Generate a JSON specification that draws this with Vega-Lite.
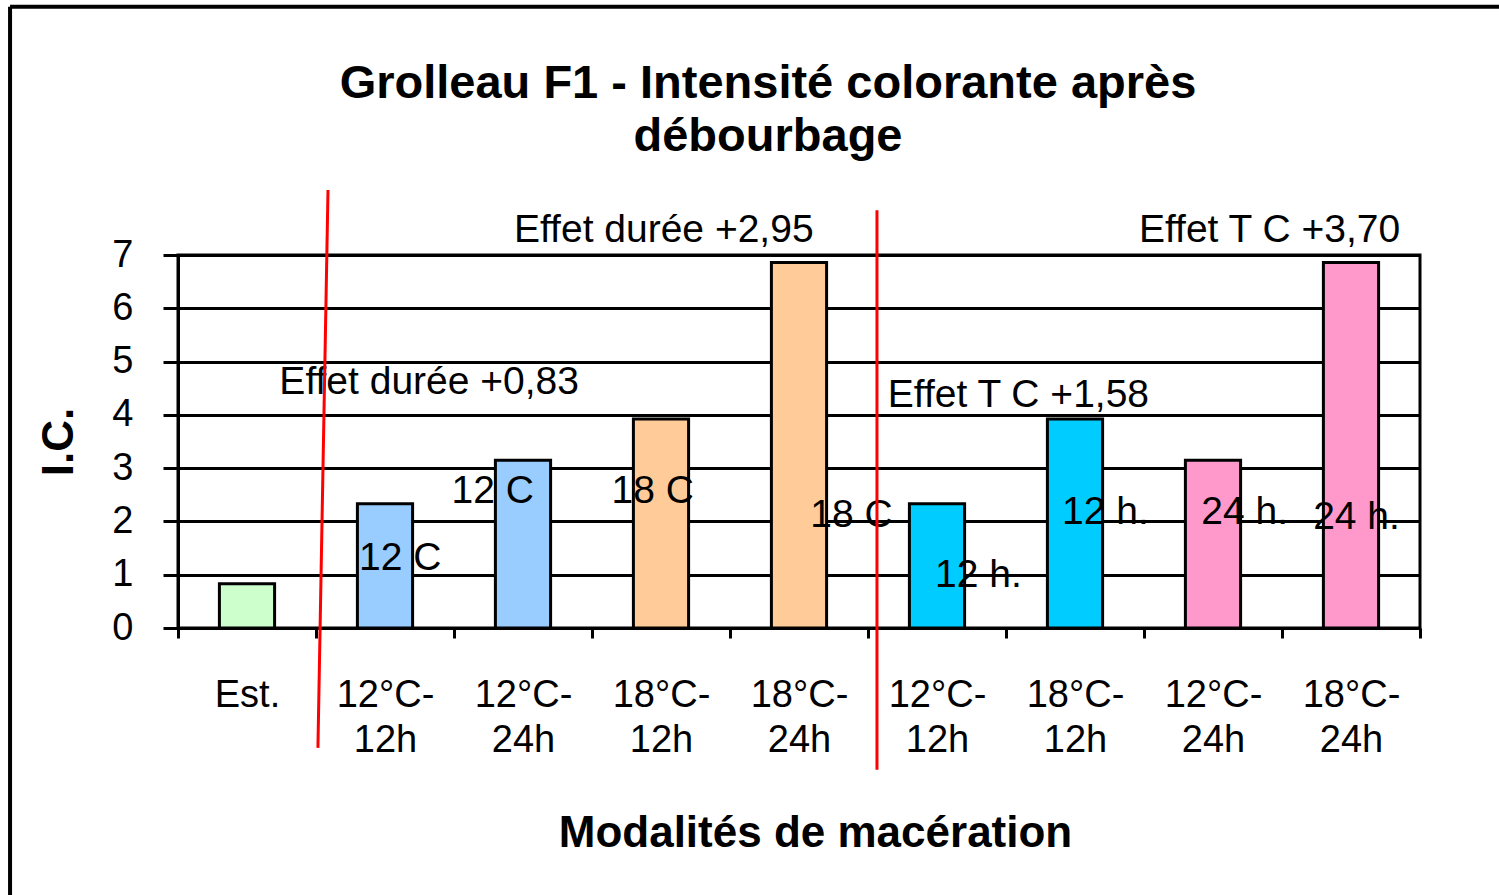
{
  "$schema": "https://vega.github.io/schema/vega-lite/v6.json",
  "autosize": "none",
  "width": 1242,
  "height": 373,
  "padding": {"left": 178, "top": 255, "right": 79, "bottom": 267},
  "background": "white",
  "title": {
    "text": ["Grolleau F1 - Intensité  colorante  après", "débourbage"],
    "font": "Liberation Sans",
    "fontSize": 47,
    "fontWeight": "bold",
    "color": "black",
    "lineHeight": 53,
    "offset": -156,
    "dx": -31,
    "anchor": "middle"
  },
  "config": {
    "view": {"stroke": "black", "strokeWidth": 3},
    "font": "Liberation Sans",
    "text": {"font": "Liberation Sans"}
  },
  "datasets": {
    "bars": [
      {"cat": "Est.", "ic": 0.83, "groupe": "Est"},
      {"cat": "12°C-|12h", "ic": 2.33, "groupe": "12C"},
      {"cat": "12°C-|24h", "ic": 3.15, "groupe": "12C"},
      {"cat": "18°C-|12h", "ic": 3.92, "groupe": "18C"},
      {"cat": "18°C-|24h", "ic": 6.86, "groupe": "18C"},
      {"cat": "12°C-|12h ", "ic": 2.33, "groupe": "12h"},
      {"cat": "18°C-|12h ", "ic": 3.92, "groupe": "12h"},
      {"cat": "12°C-|24h ", "ic": 3.15, "groupe": "24h"},
      {"cat": "18°C-|24h ", "ic": 6.86, "groupe": "24h"}
    ],
    "notes": [
      {"texte": "Effet durée +0,83", "px": 1.82, "py": 4.62},
      {"texte": "Effet durée +2,95", "px": 3.52, "py": 7.47},
      {"texte": "Effet T C +3,70", "px": 7.91, "py": 7.47},
      {"texte": "Effet T C +1,58", "px": 6.09, "py": 4.37},
      {"texte": "12  C", "px": 1.61, "py": 1.31},
      {"texte": "12  C", "px": 2.28, "py": 2.57},
      {"texte": "18  C", "px": 3.44, "py": 2.57},
      {"texte": "18  C", "px": 4.88, "py": 2.12},
      {"texte": "12 h.", "px": 5.80, "py": 0.99},
      {"texte": "12 h.", "px": 6.72, "py": 2.18},
      {"texte": "24 h.", "px": 7.73, "py": 2.18},
      {"texte": "24 h.", "px": 8.54, "py": 2.08}
    ],
    "lignes": [
      {"x1": 1.087, "y1": 8.22, "x2": 1.014, "y2": -2.25},
      {"x1": 5.065, "y1": 7.84, "x2": 5.065, "y2": -2.66}
    ],
    "cadre": [
      {"x1": -1.217, "y1": 11.66, "x2": 9.7, "y2": 11.66},
      {"x1": -1.217, "y1": 11.66, "x2": -1.217, "y2": -5.2}
    ]
  },
  "layer": [
    {
      "data": {"name": "bars"},
      "mark": {"type": "bar", "stroke": "black", "strokeWidth": 3, "width": {"band": 0.4}},
      "encoding": {
        "x": {
          "field": "cat",
          "type": "nominal",
          "sort": null,
          "scale": {"paddingInner": 0, "paddingOuter": 0},
          "axis": {
            "title": "Modalités de macération",
            "titleFont": "Liberation Sans",
            "titleFontSize": 44,
            "titleFontWeight": "bold",
            "titleColor": "black",
            "titlePadding": 52,
            "titleX": 637,
            "labelExpr": "datum.value ? split(trim(datum.value), '|') : ''",
            "labelFont": "Liberation Sans",
            "labelFontSize": 38,
            "labelColor": "black",
            "labelLineHeight": 45,
            "labelAngle": 0,
            "labelPadding": 38,
            "labelBaseline": "top",
            "tickBand": "extent",
            "tickColor": "black",
            "tickWidth": 3,
            "tickSize": 10,
            "domainColor": "black",
            "domainWidth": 3,
            "grid": false
          }
        },
        "y": {
          "field": "ic",
          "type": "quantitative",
          "scale": {"domain": [0, 7], "nice": false},
          "axis": {
            "title": "I.C.",
            "titleFont": "Liberation Sans",
            "titleFontSize": 44,
            "titleFontWeight": "bold",
            "titleColor": "black",
            "titlePadding": 30,
            "values": [0, 1, 2, 3, 4, 5, 6, 7],
            "format": "d",
            "labelFont": "Liberation Sans",
            "labelFontSize": 38,
            "labelColor": "black",
            "labelPadding": 30,
            "tickColor": "black",
            "tickWidth": 3,
            "tickSize": 15,
            "domainColor": "black",
            "domainWidth": 3,
            "grid": true,
            "gridColor": "black",
            "gridWidth": 3,
            "gridOpacity": 1
          }
        },
        "color": {
          "field": "groupe",
          "type": "nominal",
          "scale": {
            "domain": ["Est", "12C", "18C", "12h", "24h"],
            "range": ["#CCFFCC", "#99CCFF", "#FFCC99", "#00CCFF", "#FF99CC"]
          },
          "legend": null
        }
      }
    },
    {
      "data": {"name": "notes"},
      "mark": {"type": "text", "fontSize": 39, "color": "black", "align": "center", "baseline": "middle", "font": "Liberation Sans"},
      "encoding": {
        "x": {"field": "px", "type": "quantitative", "scale": {"domain": [0, 9], "nice": false, "zero": false}, "axis": null},
        "y": {"field": "py", "type": "quantitative"},
        "text": {"field": "texte"}
      }
    },
    {
      "data": {"name": "lignes"},
      "mark": {"type": "rule", "color": "red", "strokeWidth": 3},
      "encoding": {
        "x": {"field": "x1", "type": "quantitative", "scale": {"domain": [0, 9], "nice": false, "zero": false}, "axis": null},
        "x2": {"field": "x2"},
        "y": {"field": "y1", "type": "quantitative"},
        "y2": {"field": "y2"}
      }
    },
    {
      "data": {"name": "cadre"},
      "mark": {"type": "rule", "color": "black", "strokeWidth": 4},
      "encoding": {
        "x": {"field": "x1", "type": "quantitative", "scale": {"domain": [0, 9], "nice": false, "zero": false}, "axis": null},
        "x2": {"field": "x2"},
        "y": {"field": "y1", "type": "quantitative"},
        "y2": {"field": "y2"}
      }
    }
  ],
  "resolve": {"scale": {"x": "independent"}}
}
